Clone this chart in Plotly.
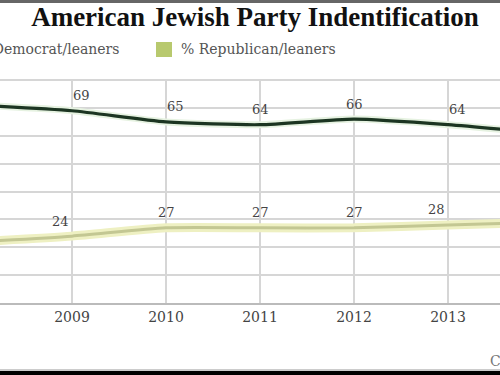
import plotly.graph_objects as go

years = [2008, 2009, 2010, 2011, 2012, 2013, 2014]
dem = [71, 69, 65, 64, 66, 64, 61]
rep = [22, 24, 27, 27, 27, 28, 29]
title_text = "American Jewish Party Indentification"
dem_name = "% Democrat/leaners"
rep_name = "% Republican/leaners"
source_text = "C"
tick_years = [2008, 2009, 2010, 2011, 2012, 2013, 2014]
dem_anchor = ["left", "left", "left", "center", "center", "left", "left"]
rep_anchor = ["right", "right", "center", "center", "center", "right", "right"]

fig = go.Figure()
sm = 0.6
fig.add_trace(go.Scatter(x=years, y=dem, mode="lines", line=dict(color="#e6f2e1", width=7, shape="spline", smoothing=sm), hoverinfo="skip", showlegend=False))
fig.add_trace(go.Scatter(x=years, y=dem, mode="lines", line=dict(color="#1c3522", width=3.2, shape="spline", smoothing=sm), name=dem_name, showlegend=False))
fig.add_trace(go.Scatter(x=years, y=rep, mode="lines", line=dict(color="#eef0c2", width=9, shape="spline", smoothing=sm), hoverinfo="skip", showlegend=False))
fig.add_trace(go.Scatter(x=years, y=rep, mode="lines", line=dict(color="#c3c793", width=3, shape="spline", smoothing=sm), name=rep_name, showlegend=False))

lab_font = dict(family="DejaVu Serif", size=13, color="#444444")
for xv, yv, a in zip(years, dem, dem_anchor):
    fig.add_annotation(x=xv, y=yv, text=str(yv), showarrow=False, xanchor=a, yanchor="middle",
                       yshift=15, xshift=(-1 if a == "left" else 0), font=lab_font)
for xv, yv, a in zip(years, rep, rep_anchor):
    fig.add_annotation(x=xv, y=yv, text=str(yv), showarrow=False, xanchor=a, yanchor="middle",
                       yshift=15, xshift=(-1 if a == "right" else 0), font=lab_font)

T, B, H = 79, 72, 224


def py(pix):
    return (375 - B - pix) / H


leg_font = dict(family="DejaVu Serif", size=14, color="#555555")
fig.add_shape(type="rect", xref="paper", yref="paper", x0=-45/500, x1=-29/500, y0=py(57), y1=py(41),
              fillcolor="#1c3522", line_width=0)
fig.add_annotation(xref="paper", yref="paper", x=121/500, y=py(49), text=dem_name, showarrow=False,
                   xanchor="right", yanchor="middle", font=leg_font)
fig.add_shape(type="rect", xref="paper", yref="paper", x0=156/500, x1=172/500, y0=py(57), y1=py(42),
              fillcolor="#b8c96e", line_width=0)
fig.add_annotation(xref="paper", yref="paper", x=179/500, y=py(49), text=rep_name, showarrow=False,
                   xanchor="left", yanchor="middle", font=leg_font)

fig.add_annotation(xref="paper", yref="paper", x=488/500, y=py(361), text=source_text, showarrow=False,
                   xanchor="left", yanchor="middle", font=dict(family="DejaVu Serif", size=14, color="#777777"))

fig.add_shape(type="rect", xref="paper", yref="paper", x0=-0.1, x1=1.1, y0=py(3), y1=py(0),
              fillcolor="#666666", line_width=0)
fig.add_shape(type="rect", xref="paper", yref="paper", x0=-0.1, x1=1.1, y0=py(375), y1=py(371),
              fillcolor="#000000", line_width=0)
fig.add_shape(type="line", xref="paper", yref="paper", x0=-0.1, x1=1.1, y0=py(370), y1=py(370),
              line=dict(color="#999999", width=1))

fig.update_layout(
    width=500, height=375,
    margin=dict(l=0, r=0, t=T, b=B),
    paper_bgcolor="white", plot_bgcolor="white",
    title=dict(text="<b>" + title_text + "</b>", x=255/500, xanchor="center", y=1-17/375, yanchor="middle",
               font=dict(family="Liberation Serif", size=27, color="#111111")),
    xaxis=dict(range=[2009 - 72/94, 2009 + 428/94], tickvals=tick_years, ticktext=[str(t) for t in tick_years],
               showgrid=True, gridcolor="#d6d6d6", gridwidth=1.5, zeroline=False,
               showline=True, linecolor="#bbbbbb", linewidth=2,
               tickfont=dict(family="DejaVu Serif", size=14, color="#444444"), ticks="", ticklen=0),
    yaxis=dict(range=[0, 80.4], tickvals=[0, 10, 20, 30, 40, 50, 60, 70, 80], showgrid=True,
               gridcolor="#d6d6d6", gridwidth=1.5, zeroline=False,
               showticklabels=False, showline=False),
    showlegend=False,
)

fig.write_html("out.html", config={"displayModeBar": False},
               post_script="document.body.style.margin='0';document.body.style.overflow='hidden';")
